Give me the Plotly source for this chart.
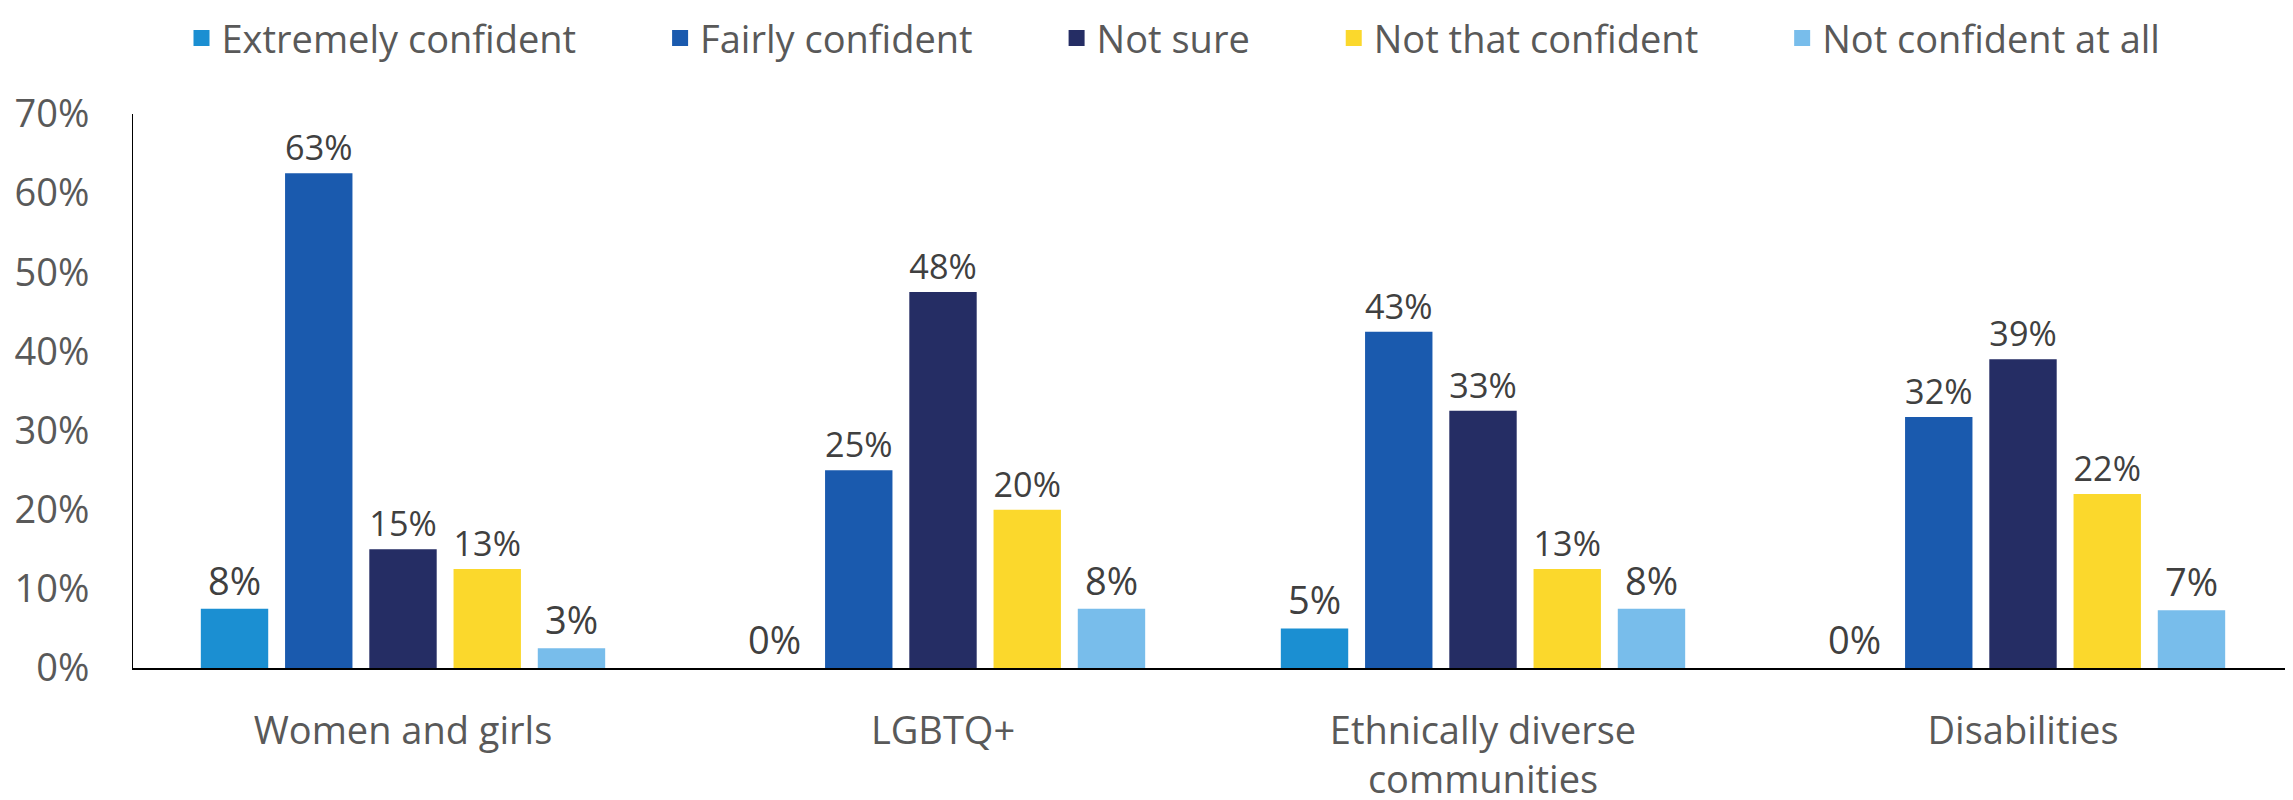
import math
import plotly.graph_objects as go

# Survey categories and response shares (%)
categories = ["Women and girls", "LGBTQ+", "Ethnically diverse<br>communities", "Disabilities"]
series_names = ["Extremely confident", "Fairly confident", "Not sure", "Not that confident", "Not confident at all"]

extremely_confident = [7.5, 0.0, 5.0, 0.0]
fairly_confident = [62.5, 25.0, 42.5, 31.7]
not_sure = [15.0, 47.5, 32.5, 39.0]
not_that_confident = [12.5, 20.0, 12.5, 22.0]
not_confident_at_all = [2.5, 7.5, 7.5, 7.3]

y_tick_values = [0, 10, 20, 30, 40, 50, 60, 70]
y_tick_labels = ["0%", "10%", "20%", "30%", "40%", "50%", "60%", "70%"]

# Brand palette
colors = ["#1B8FD2", "#1A5AAE", "#252D64", "#FBD82C", "#78BDEB"]

series_values = [extremely_confident, fairly_confident, not_sure, not_that_confident, not_confident_at_all]

FONT_SIZE = 38
PAD = "\u00a0" * 8

fig = go.Figure()
for name, vals, col in zip(series_names, series_values, colors):
    fig.add_trace(go.Bar(
        name=name,
        x=categories,
        y=vals,
        marker=dict(color=col, line=dict(width=0)),
        text=[f"{math.floor(v + 0.5)}%" for v in vals],
        textposition="outside",
        textfont=dict(size=FONT_SIZE, color="#404040"),
        cliponaxis=False,
        showlegend=False,
    ))
    # legend-only entry so the key swatch is a bigger square
    fig.add_trace(go.Scatter(
        name=name + PAD,
        x=[None],
        y=[None],
        mode="markers",
        marker=dict(symbol="square", size=20, color=col),
    ))

# page body adds ~8px offset, margins compensate
fig.update_layout(
    width=2293,
    height=800,
    barmode="group",
    bargap=0.22,
    bargroupgap=0.2,
    font=dict(family="Open Sans, sans-serif", size=FONT_SIZE, color="#595959"),
    paper_bgcolor="white",
    plot_bgcolor="rgba(0,0,0,0)",
    margin=dict(t=106, b=140, l=125, r=8),
    legend=dict(
        orientation="h",
        x=0.5, xanchor="center",
        yref="container",
        y=0.962, yanchor="middle",
        font=dict(size=FONT_SIZE, color="#595959"),
        itemwidth=30,
        tracegroupgap=0,
    ),
    xaxis=dict(
        showgrid=False,
        zeroline=False,
        showline=True,
        linecolor="black",
        linewidth=2,
        ticks="",
        ticklabelstandoff=28,
        automargin=False,
        tickfont=dict(size=FONT_SIZE, color="#595959"),
    ),
    yaxis=dict(
        range=[0, 70],
        tickvals=y_tick_values,
        ticktext=y_tick_labels,
        showgrid=False,
        zeroline=False,
        showline=True,
        linecolor="black",
        linewidth=1,
        ticks="",
        ticklabelstandoff=35,
        automargin=False,
        tickfont=dict(size=FONT_SIZE, color="#595959"),
    ),
)

fig.write_html("out.html")
